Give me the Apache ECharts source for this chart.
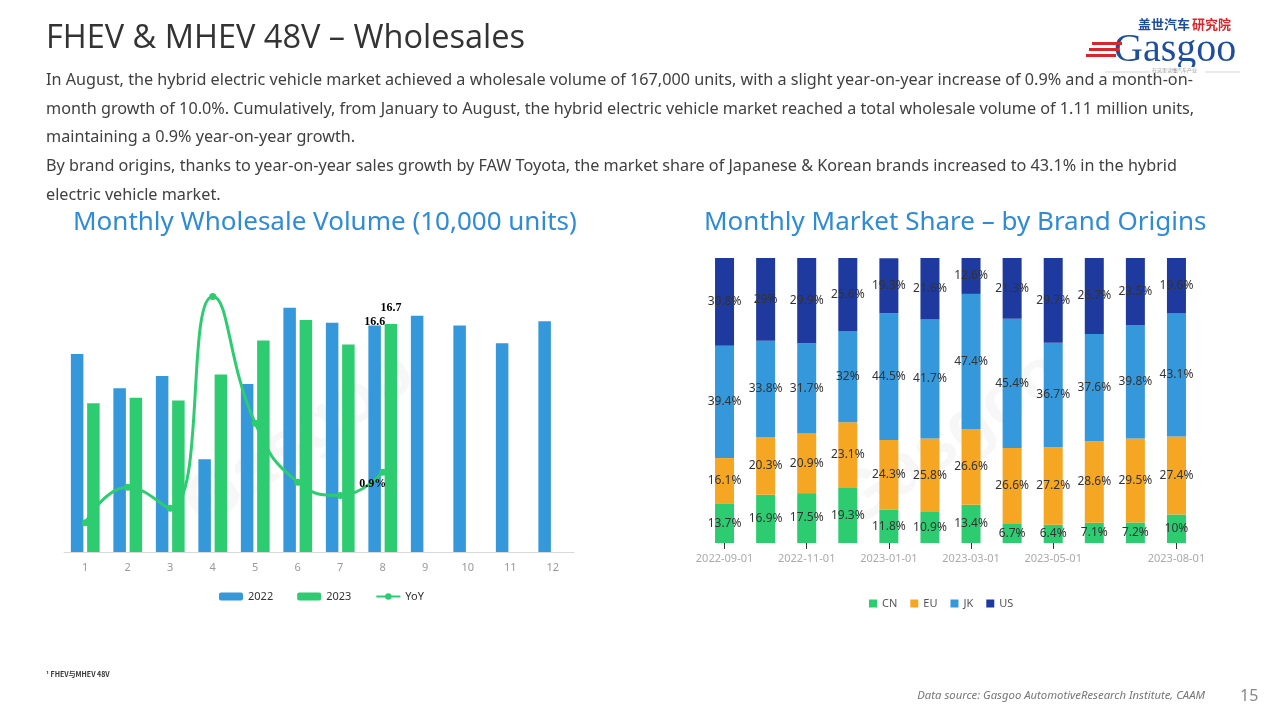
<!DOCTYPE html>
<html><head><meta charset="utf-8">
<script src="https://cdn.jsdelivr.net/npm/echarts@6/dist/echarts.min.js"></script>
<style>html,body{margin:0;padding:0;background:#fff}#c{width:1280px;height:720px}</style>
</head><body><div id="c"></div>
<script>
// ---- data ----
const months = ['1','2','3','4','5','6','7','8','9','10','11','12'];
const vol2022 = [14.5, 12.0, 12.9, 6.8, 12.3, 17.9, 16.8, 16.6, 17.3, 16.6, 15.3, 16.9];
const vol2023 = [10.9, 11.3, 11.1, 13.0, 15.5, 17.0, 15.2, 16.7];
const yoy = [-25, -6.8, -17.5, 91, 26, -4.2, -11, 0.9];

const shareDates = ['2022-09-01','2022-10-01','2022-11-01','2022-12-01','2023-01-01','2023-02-01','2023-03-01','2023-04-01','2023-05-01','2023-06-01','2023-07-01','2023-08-01'];
const shareCN = [13.7, 16.9, 17.5, 19.3, 11.8, 10.9, 13.4, 6.7, 6.4, 7.1, 7.2, 10];
const shareEU = [16.1, 20.3, 20.9, 23.1, 24.3, 25.8, 26.6, 26.6, 27.2, 28.6, 29.5, 27.4];
const shareJK = [39.4, 33.8, 31.7, 32, 44.5, 41.7, 47.4, 45.4, 36.7, 37.6, 39.8, 43.1];
const shareUS = [30.8, 29, 29.9, 25.6, 19.3, 21.6, 12.6, 21.3, 29.7, 26.7, 23.5, 19.6];
const shownDateIdx = [0, 2, 4, 6, 8, 11];

const paragraph = [
  'In August, the hybrid electric vehicle market achieved a wholesale volume of 167,000 units, with a slight year-on-year increase of 0.9% and a month-on-',
  'month growth of 10.0%. Cumulatively, from January to August, the hybrid electric vehicle market reached a total wholesale volume of 1.11 million units,',
  'maintaining a 0.9% year-on-year growth.',
  'By brand origins, thanks to year-on-year sales growth by FAW Toyota, the market share of Japanese & Korean brands increased to 43.1% in the hybrid',
  'electric vehicle market.'
];

const C_BLUE = '#3498DB', C_GREEN = '#2ECC71', C_ORANGE = '#F5A623', C_NAVY = '#1F3A9E';
const FONT = '"Noto Sans", "Open Sans", sans-serif';

const chart = echarts.init(document.getElementById('c'));

const graphic = [
  {type:'text', left:46, top:22, style:{text:'FHEV & MHEV 48V – Wholesales', font:'32.5px "Open Sans", "Noto Sans", sans-serif', fill:'#333'}},
  {type:'text', left:73, top:210, style:{text:'Monthly Wholesale Volume (10,000 units)', font:'26px "Noto Sans", sans-serif', fill:'#2E8BD6'}},
  {type:'text', left:704, top:210, style:{text:'Monthly Market Share – by Brand Origins', font:'26px "Noto Sans", sans-serif', fill:'#2E8BD6'}},
  {type:'text', left:46, top:671, style:{text:'¹ FHEV与MHEV 48V', font:'bold 7px "Noto Sans CJK SC", sans-serif', fill:'#333'}},
  {type:'text', right:75, top:690, style:{text:'Data source: Gasgoo AutomotiveResearch Institute, CAAM', font:'italic 11.3px "Noto Sans", sans-serif', fill:'#777'}},
  {type:'text', left:1240, top:688, style:{text:'15', font:'16px "Noto Sans", sans-serif', fill:'#888'}},
  // logo
  {type:'text', left:1138, top:18, style:{text:'盖世汽车', font:'bold 13px "Noto Sans CJK SC", sans-serif', fill:'#1F4E9C'}},
  {type:'text', left:1192, top:18, style:{text:'研究院', font:'bold 13px "Noto Sans CJK SC", sans-serif', fill:'#D9262C'}},
  {type:'text', left:1114, top:30, style:{text:'Gasgoo', font:'40px "Liberation Serif", serif', fill:'#1F4E9C'}},
  {type:'rect', shape:{x:1092, y:42, width:30, height:3}, style:{fill:'#D9262C'}},
  {type:'rect', shape:{x:1089, y:48, width:30, height:3}, style:{fill:'#D9262C'}},
  {type:'rect', shape:{x:1086, y:54, width:30, height:3}, style:{fill:'#D9262C'}},
  {type:'line', shape:{x1:1105, y1:72, x2:1240, y2:72}, style:{stroke:'#bbb', lineWidth:0.6}},
  {type:'rect', shape:{x:1150, y:67, width:55, height:10}, style:{fill:'#fff'}},
  {type:'text', left:1152, top:68, style:{text:'在这里读懂汽车产业', font:'5px "Noto Sans CJK SC", sans-serif', fill:'#999'}},
  // watermarks
  {type:'text', x:300, y:440, rotation:0.6, style:{text:'Gasgoo', font:'bold 70px "Liberation Sans", sans-serif', fill:'rgba(150,150,150,0.08)', align:'center', verticalAlign:'middle'}},
  {type:'text', x:950, y:440, rotation:0.6, style:{text:'Gasgoo', font:'bold 70px "Liberation Sans", sans-serif', fill:'rgba(150,150,150,0.08)', align:'center', verticalAlign:'middle'}}
];
paragraph.forEach((t, i) => {
  graphic.push({type:'text', left:46, top:72.5 + i*28.6, style:{text:t, font:'16.2px "Noto Sans", sans-serif', fill:'#404040'}});
});

const shareSeries = [
  ['CN', shareCN, C_GREEN], ['EU', shareEU, C_ORANGE], ['JK', shareJK, C_BLUE], ['US', shareUS, C_NAVY]
].map(([name, data, color]) => ({
  name, type:'bar', stack:'share', xAxisIndex:1, yAxisIndex:2, data, barWidth:19,
  itemStyle:{color},
  label:{show:true, position:'inside', formatter:'{c}%', color:'#333', fontSize:12, fontFamily:FONT}
}));

const option = {
  animation:false,
  backgroundColor:'#fff',
  graphic,
  legend:[
    {data:['2022','2023','YoY'], left:214, top:586, itemWidth:24, itemHeight:8, itemGap:24,
     textStyle:{color:'#333', fontSize:11, fontFamily:FONT}},
    {data:['CN','EU','JK','US'], left:864, top:593, itemWidth:8, itemHeight:8, itemGap:13, icon:'rect',
     textStyle:{color:'#555', fontSize:11, fontFamily:FONT}}
  ],
  grid:[
    {left:64, right:706, top:279, bottom:168},
    {left:704, right:83, top:258, bottom:177}
  ],
  xAxis:[
    {type:'category', gridIndex:0, data:months,
     axisLine:{lineStyle:{color:'#d9d9d9'}}, axisTick:{show:false},
     axisLabel:{color:'#999', fontSize:11, margin:10, fontFamily:FONT}},
    {type:'category', gridIndex:1, data:shareDates,
     axisLine:{show:false},
     axisTick:{show:true, alignWithLabel:true, length:6, lineStyle:{color:'#333'}, interval:(i)=>shownDateIdx.includes(i)},
     axisLabel:{color:'#aaa', fontSize:11, margin:10, fontFamily:FONT, interval:(i)=>shownDateIdx.includes(i)}}
  ],
  yAxis:[
    {type:'value', gridIndex:0, min:0, max:20, show:false, splitLine:{show:false}},
    {type:'value', gridIndex:0, min:-40, max:100, show:false, splitLine:{show:false}},
    {type:'value', gridIndex:1, min:0, max:100, show:false, splitLine:{show:false}}
  ],
  series:[
    {name:'2022', type:'bar', xAxisIndex:0, yAxisIndex:0, barWidth:12.5, barGap:'30%',
     itemStyle:{color:C_BLUE},
     data: vol2022.map((v,i)=> i===7 ? {value:v, label:{show:true, position:'top', offset:[0,7], formatter:'{c}', color:'#000', fontWeight:'bold', fontSize:12, fontFamily:'"Liberation Serif", serif'}} : v)},
    {name:'2023', type:'bar', xAxisIndex:0, yAxisIndex:0, barWidth:12.5, barGap:'30%',
     itemStyle:{color:C_GREEN},
     data: vol2023.map((v,i)=> i===7 ? {value:v, label:{show:true, position:'top', offset:[0,-5], formatter:'{c}', color:'#000', fontWeight:'bold', fontSize:12, fontFamily:'"Liberation Serif", serif'}} : v)},
    {name:'YoY', type:'line', xAxisIndex:0, yAxisIndex:1, smooth:0.5, symbol:'circle', symbolSize:7,
     lineStyle:{color:C_GREEN, width:3}, itemStyle:{color:C_GREEN},
     data: yoy.map((v,i)=> i===7 ? {value:v, label:{show:true, position:'left', distance:4, offset:[11,12], formatter:'{c}%', color:'#000', fontWeight:'bold', fontSize:12, fontFamily:'"Liberation Serif", serif'}} : v)},
    ...shareSeries
  ]
};
chart.setOption(option);
</script>
</body></html>
